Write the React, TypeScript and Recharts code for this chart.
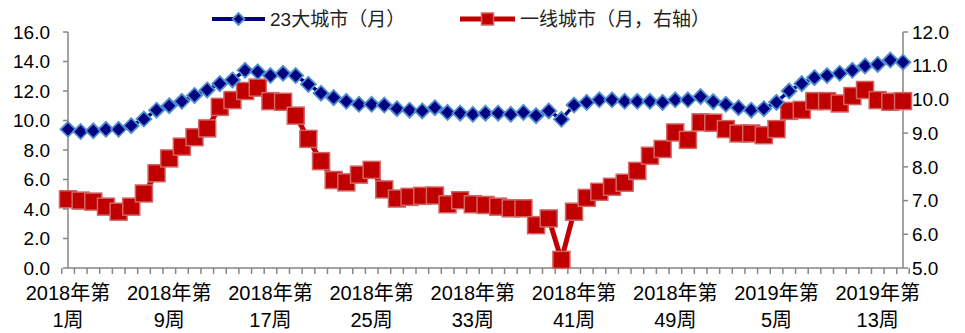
import React from "react";
import { LineChart, Line, XAxis, YAxis } from "recharts";

// 周度数据：2018年第1周 ~ 2019年第15周
const weeks2018 = [
  1, 2, 3, 4, 5, 6, 7, 8, 9, 10, 11, 12, 13, 14, 15, 16, 17, 18, 19, 20, 21, 22, 23, 24, 25, 26,
  27, 28, 29, 30, 31, 32, 33, 34, 35, 36, 37, 38, 39, 40, 41, 42, 43, 44, 45, 46, 47, 48, 49, 50, 51, 52,
];
const weeks2019 = [1, 2, 3, 4, 5, 6, 7, 8, 9, 10, 11, 12, 13, 14, 15];

const categories = [
  ...weeks2018.map(w => `2018年第${w}周`),
  ...weeks2019.map(w => `2019年第${w}周`),
];

// 23大城市（月），左轴
const city23 = [
  9.4, 9.25, 9.3, 9.4, 9.4, 9.65, 10.1, 10.7, 11.0, 11.3, 11.7, 12.07, 12.5, 12.75, 13.4, 13.3,
  13.05, 13.2, 13.05, 12.45, 11.85, 11.55, 11.3, 11.1, 11.1, 11.05, 10.8, 10.7, 10.65, 10.87, 10.55, 10.5,
  10.42, 10.5, 10.5, 10.42, 10.55, 10.33, 10.65, 10.08, 11.05, 11.23, 11.4, 11.4, 11.3, 11.3, 11.3, 11.23,
  11.4, 11.4, 11.62, 11.28,
  11.1, 10.87, 10.7, 10.8, 11.23, 12.0, 12.5, 12.9, 13.05, 13.2, 13.4, 13.7, 13.8, 14.1, 13.95,
];

// 一线城市（月，右轴）
const tier1 = [
  7.04, 7.0, 6.97, 6.82, 6.67, 6.82, 7.21, 7.81, 8.25, 8.6, 8.88, 9.14, 9.78, 9.98, 10.25, 10.35,
  9.95, 9.93, 9.52, 8.83, 8.17, 7.61, 7.54, 7.77, 7.91, 7.33, 7.06, 7.11, 7.14, 7.15, 6.89, 7.01,
  6.89, 6.87, 6.82, 6.77, 6.77, 6.27, 6.47, 5.24, 6.67, 7.08, 7.26, 7.41, 7.53, 7.88, 8.33, 8.53,
  9.02, 8.8, 9.32, 9.31,
  9.12, 8.99, 8.99, 8.94, 9.12, 9.66, 9.69, 9.95, 9.95, 9.88, 10.1, 10.28, 9.98, 9.93, 9.95,
];

const leftTicks = [0, 2, 4, 6, 8, 10, 12, 14, 16];
const rightTicks = [5, 6, 7, 8, 9, 10, 11, 12];

const data = categories.map((c, i) => ({ week: c, city23: city23[i], tier1: tier1[i] }));

const W = 965;
const H = 333;
const LEFT_W = 68;
const RIGHT_W = 62;
const TOP = 32;
const X_H = 65;
const BAND = (W - LEFT_W - RIGHT_W) / categories.length;

const FONT = "'Liberation Sans', Arial, 'Noto Sans CJK SC', sans-serif";
const AXIS = "#868686";
const BLUE = "#000080";
const BLUE_EDGE = "#4f8fcf";
const RED = "#C00000";
const RED_EDGE = "#d36464";

const Diamond = ({ cx, cy, r = 7.5 }: { cx: number; cy: number; r?: number }) => (
  <path
    d={`M${cx},${cy - r}L${cx + r},${cy}L${cx},${cy + r}L${cx - r},${cy}Z`}
    fill={BLUE}
    stroke={BLUE_EDGE}
    strokeWidth={1.8}
  />
);

const Square = ({ cx, cy, s = 8.5 }: { cx: number; cy: number; s?: number }) => (
  <rect x={cx - s} y={cy - s} width={s * 2} height={s * 2} fill={RED} stroke={RED_EDGE} strokeWidth={1.5} />
);

const WeekTick = (props: any) => {
  const { x, y, payload, index } = props;
  const label: string = payload.value;
  const show = index % 8 === 0;
  const m = label.match(/^(\d{4}年第)(\d+周)$/);
  return (
    <g>
      <line x1={x - BAND / 2} x2={x - BAND / 2} y1={y} y2={y + 6} stroke={AXIS} strokeWidth={1.5} />
      {index === categories.length - 1 && (
        <line x1={x + BAND / 2} x2={x + BAND / 2} y1={y} y2={y + 6} stroke={AXIS} strokeWidth={1.5} />
      )}
      {show && m && (
        <text textAnchor="middle" fontSize={20} fill="#000" fontFamily={FONT}>
          <tspan x={x} y={y + 32}>{m[1]}</tspan>
          <tspan x={x} y={y + 59}>{m[2]}</tspan>
        </text>
      )}
    </g>
  );
};

export default function App() {
  return (
    <div style={{ position: "relative", width: W, height: H, background: "#fff", fontFamily: FONT }}>
      <style>{`body{margin:0}`}</style>
      <svg width={W} height={34} style={{ position: "absolute", left: 0, top: 0, zIndex: 2 }}>
        <line x1={212} x2={265} y1={19} y2={19} stroke={BLUE} strokeWidth={4} />
        <Diamond cx={238.5} cy={19} r={6} />
        <text x={270} y={26} fontSize={19} fill="#222" fontFamily={FONT}>23大城市（月）</text>
        <line x1={460} x2={515} y1={19} y2={19} stroke={RED} strokeWidth={5} />
        <Square cx={487.5} cy={19} s={6} />
        <text x={520} y={26} fontSize={19} fill="#222" fontFamily={FONT}>一线城市（月，右轴）</text>
      </svg>
      <LineChart width={W} height={H} data={data} margin={{ top: TOP, right: 0, left: 0, bottom: 0 }}>
        <XAxis
          dataKey="week"
          interval={0}
          height={X_H}
          tickLine={false}
          tickSize={0}
          tickMargin={0}
          axisLine={{ stroke: AXIS, strokeWidth: 1.5 }}
          tick={<WeekTick />}
        />
        <YAxis
          yAxisId="left"
          orientation="left"
          width={LEFT_W}
          domain={[0, 16]}
          ticks={leftTicks}
          interval={0}
          tickFormatter={(v: number) => v.toFixed(1)}
          tick={{ fontSize: 19, fill: "#000", fontFamily: FONT }}
          tickSize={5}
          tickMargin={13}
          axisLine={{ stroke: AXIS, strokeWidth: 1.5 }}
          tickLine={{ stroke: AXIS, strokeWidth: 1.5 }}
        />
        <YAxis
          yAxisId="right"
          orientation="right"
          width={RIGHT_W}
          domain={[5, 12]}
          ticks={rightTicks}
          interval={0}
          tickFormatter={(v: number) => v.toFixed(1)}
          tick={{ fontSize: 19, fill: "#000", fontFamily: FONT }}
          tickSize={5}
          tickMargin={4}
          axisLine={{ stroke: AXIS, strokeWidth: 1.5 }}
          tickLine={{ stroke: AXIS, strokeWidth: 1.5 }}
        />
        <Line
          yAxisId="right"
          dataKey="tier1"
          stroke={RED}
          strokeWidth={5}
          isAnimationActive={false}
          dot={(p: any) => <Square key={`r${p.index}`} cx={p.cx} cy={p.cy} />}
        />
        <Line
          yAxisId="left"
          dataKey="city23"
          stroke={BLUE}
          strokeWidth={3.5}
          isAnimationActive={false}
          dot={(p: any) => <Diamond key={`b${p.index}`} cx={p.cx} cy={p.cy} />}
        />
      </LineChart>
    </div>
  );
}
